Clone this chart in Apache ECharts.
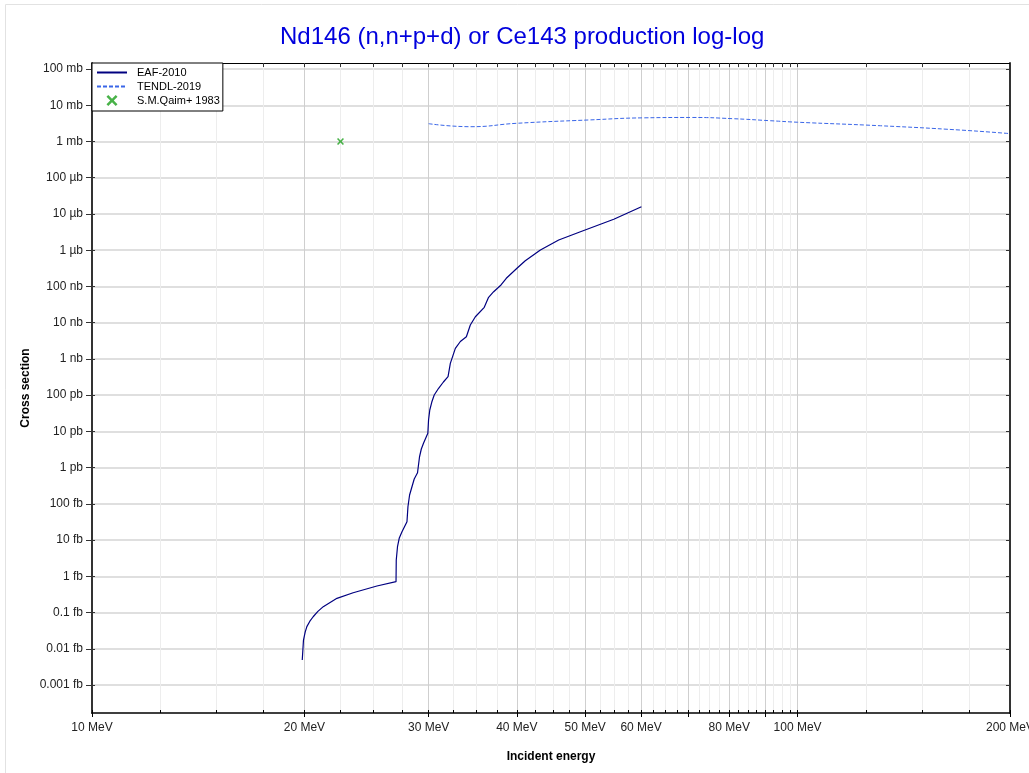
<!DOCTYPE html>
<html>
<head>
<meta charset="utf-8">
<script src="https://cdn.jsdelivr.net/npm/echarts@6/dist/echarts.min.js"></script>
<style>
html,body{margin:0;padding:0;background:#fff;}
#chart{width:1029px;height:773px;}
</style>
</head>
<body>
<div id="chart"></div>
<script>
// ---- data (energy in MeV, cross section in barns) ----
const eafEnergy = [19.86, 19.94, 20.05, 20.16, 20.35, 20.58, 20.9, 21.27, 22.24, 23.45, 25.34, 26.97, 26.99, 27.10, 27.26, 27.50, 27.95, 28.04, 28.19, 28.41, 28.62, 28.93, 29.12, 29.29, 29.50, 29.92, 29.99, 30.11, 30.31, 30.55, 30.99, 31.48, 31.96, 32.20, 32.73, 33.27, 33.93, 34.37, 34.94, 35.97, 36.48, 37.09, 37.99, 38.65, 40.02, 41.12, 43.20, 45.86, 49.23, 54.89, 60.07];
const eafXs = [4.9e-18, 1.75e-17, 2.9e-17, 4.1e-17, 5.7e-17, 7.7e-17, 1.08e-16, 1.46e-16, 2.48e-16, 3.54e-16, 5.42e-16, 7.13e-16, 2.83e-15, 6.58e-15, 1.15e-14, 1.71e-14, 3.22e-14, 8.36e-14, 1.76e-13, 2.98e-13, 4.86e-13, 7.24e-13, 2.0e-12, 3.27e-12, 4.7e-12, 8.87e-12, 2.07e-11, 3.9e-11, 6.47e-11, 1.01e-10, 1.55e-10, 2.31e-10, 3.23e-10, 7.57e-10, 1.96e-9, 3.03e-9, 4.1e-9, 8.63e-9, 1.46e-8, 2.66e-8, 5.01e-8, 7.16e-8, 1.10e-7, 1.68e-7, 3.17e-7, 5.13e-7, 1.01e-6, 1.91e-6, 3.24e-6, 7.13e-6, 1.58e-5];

const tendlEnergy = [30, 34.4, 40, 50.5, 60.7, 71, 81, 91.6, 100, 131, 170, 200];
const tendlXs = [3.1e-3, 2.56e-3, 3.18e-3, 3.92e-3, 4.5e-3, 4.6e-3, 4.26e-3, 3.74e-3, 3.4e-3, 2.72e-3, 2.07e-3, 1.65e-3];

const qaimEnergy = [22.5];
const qaimXs = [1.0e-3];

const xLabelValues = [10, 20, 30, 40, 50, 60, 80, 100, 200];
const xMajorTicks = [10, 20, 30, 40, 50, 60, 70, 80, 90, 100, 200];
const xMinorTicks = [12.5, 15, 17.5, 22.5, 25, 27.5, 32.5, 35, 37.5, 42.5, 45, 47.5, 52.5, 55, 57.5, 62.5, 65, 67.5, 72.5, 75, 77.5, 82.5, 85, 87.5, 92.5, 95, 97.5, 125, 150, 175];
const yTickValues = [1e-18, 1e-17, 1e-16, 1e-15, 1e-14, 1e-13, 1e-12, 1e-11, 1e-10, 1e-9, 1e-8, 1e-7, 1e-6, 1e-5, 1e-4, 1e-3, 1e-2, 1e-1];
const yTickLabels = ['0.001 fb', '0.01 fb', '0.1 fb', '1 fb', '10 fb', '100 fb', '1 pb', '10 pb', '100 pb', '1 nb', '10 nb', '100 nb', '1 µb', '10 µb', '100 µb', '1 mb', '10 mb', '100 mb'];

const X_MIN = 10, X_MAX = 200;
const Y_MIN = Math.pow(10, -18.77), Y_MAX = Math.pow(10, -0.834);

function zip(a, b) { return a.map((v, i) => [v, b[i]]); }
function yLabel(v) {
  const e = Math.round(Math.log10(v));
  const i = yTickValues.findIndex(t => Math.round(Math.log10(t)) === e);
  return i >= 0 ? yTickLabels[i] : '';
}

const FONT = 'Liberation Sans, Arial, sans-serif';
const chart = echarts.init(document.getElementById('chart'), null, {renderer: 'canvas'});

const commonX = {type: 'log', logBase: 10, min: X_MIN, max: X_MAX, gridIndex: 0};
const commonY = {type: 'log', logBase: 10, min: Y_MIN, max: Y_MAX, gridIndex: 0};
const hiddenSym = {color: 'rgba(0,0,0,0)', borderWidth: 0, opacity: 0};

chart.setOption({
  animation: false,
  backgroundColor: '#fff',
  textStyle: {fontFamily: FONT},
  graphic: [{
    type: 'rect', silent: true, z: -10,
    shape: {x: 5.5, y: 4.5, width: 1040, height: 780},
    style: {fill: 'none', stroke: '#e2e2e2', lineWidth: 1}
  }],
  title: {
    text: 'Nd146 (n,n+p+d) or Ce143 production log-log',
    left: 275, top: 20,
    textStyle: {color: '#0000dd', fontSize: 24, fontWeight: 'normal', fontFamily: FONT}
  },
  grid: {left: 92, right: 19, top: 63, bottom: 60, containLabel: false, outerBoundsMode: 'none'},
  legend: {
    left: 92, top: 63, orient: 'vertical',
    backgroundColor: '#fff', borderColor: '#000', borderWidth: 1,
    padding: [4, 3, 5, 4], itemGap: 3, itemWidth: 30, itemHeight: 11,
    textStyle: {fontSize: 11, color: '#000', fontFamily: FONT, padding: [0, 0, 0, 5]},
    data: [
      {name: 'EAF-2010', itemStyle: hiddenSym},
      {name: 'TENDL-2019', itemStyle: hiddenSym},
      {name: 'S.M.Qaim+ 1983'}
    ]
  },
  xAxis: [
    Object.assign({}, commonX, {
      position: 'bottom',
      name: 'Incident energy', nameLocation: 'middle', nameGap: 38,
      nameTextStyle: {fontWeight: 'bold', fontSize: 12, color: '#000', fontFamily: FONT},
      axisLine: {show: true, onZero: false, lineStyle: {color: '#000', width: 1.5}},
      axisTick: {show: true, inside: false, length: 4, customValues: xMajorTicks, lineStyle: {color: '#000'}},
      axisLabel: {show: true, margin: 9, fontSize: 12, color: '#222', customValues: xLabelValues,
        formatter: v => Math.round(v) + ' MeV', showMinLabel: true, showMaxLabel: true},
      splitLine: {show: true, lineStyle: {color: '#cfcfcf', width: 1}},
      minorTick: {show: false}, minorSplitLine: {show: false}
    }),
    Object.assign({}, commonX, {
      position: 'bottom',
      axisLine: {show: false, onZero: false},
      axisTick: {show: true, inside: true, length: 3, customValues: xMinorTicks, lineStyle: {color: '#000'}},
      axisLabel: {show: false},
      splitLine: {show: true, lineStyle: {color: '#ededed', width: 1}}
    }),
    Object.assign({}, commonX, {
      position: 'bottom',
      axisLine: {show: false, onZero: false},
      axisTick: {show: true, inside: true, length: 3, customValues: xMajorTicks, lineStyle: {color: '#000'}},
      axisLabel: {show: false},
      splitLine: {show: false}
    }),
    Object.assign({}, commonX, {
      position: 'top',
      axisLine: {show: true, onZero: false, lineStyle: {color: '#000', width: 1}},
      axisTick: {show: true, inside: true, length: 4, customValues: xMajorTicks.concat(xMinorTicks), lineStyle: {color: '#333'}},
      axisLabel: {show: false},
      splitLine: {show: false}
    })
  ],
  yAxis: [
    Object.assign({}, commonY, {
      position: 'left',
      name: 'Cross section', nameLocation: 'middle', nameGap: 60, nameRotate: 90, nameMoveOverlap: false,
      nameTextStyle: {fontWeight: 'bold', fontSize: 12, color: '#000', fontFamily: FONT},
      axisLine: {show: true, onZero: false, lineStyle: {color: '#333', width: 2}},
      axisTick: {show: true, inside: false, length: 6, customValues: yTickValues, lineStyle: {color: '#333'}},
      axisLabel: {show: true, margin: 9, fontSize: 12, color: '#222', customValues: yTickValues, formatter: yLabel},
      splitLine: {show: true, lineStyle: {color: '#d4d4d4', width: 1.5}},
      minorTick: {show: false}, minorSplitLine: {show: false}
    }),
    Object.assign({}, commonY, {
      position: 'left',
      axisLine: {show: false, onZero: false},
      axisTick: {show: true, inside: true, length: 3, customValues: yTickValues, lineStyle: {color: '#333'}},
      axisLabel: {show: false},
      splitLine: {show: false}
    }),
    Object.assign({}, commonY, {
      position: 'right',
      axisLine: {show: true, onZero: false, lineStyle: {color: '#333', width: 2}},
      axisTick: {show: true, inside: true, length: 4, customValues: yTickValues, lineStyle: {color: '#333'}},
      axisLabel: {show: false},
      splitLine: {show: false}
    })
  ],
  series: [
    {
      name: 'EAF-2010', type: 'line', xAxisIndex: 0, yAxisIndex: 0,
      data: zip(eafEnergy, eafXs), symbol: 'none', smooth: false,
      lineStyle: {color: '#000080', width: 1.2}, itemStyle: {color: '#000080'}, z: 5
    },
    {
      name: 'TENDL-2019', type: 'line', xAxisIndex: 0, yAxisIndex: 0,
      data: zip(tendlEnergy, tendlXs), symbol: 'none', smooth: true,
      lineStyle: {color: '#3a66e8', width: 1, type: [4, 2]}, itemStyle: {color: '#3a66e8'}, z: 5
    },
    {
      name: 'S.M.Qaim+ 1983', type: 'scatter', xAxisIndex: 0, yAxisIndex: 0,
      data: zip(qaimEnergy, qaimXs),
      symbol: 'path://M0,1.6L1.6,0L5,3.4L8.4,0L10,1.6L6.6,5L10,8.4L8.4,10L5,6.6L1.6,10L0,8.4L3.4,5Z',
      symbolSize: 7, itemStyle: {color: '#1a9f1a'}, z: 6
    }
  ]
});
</script>
</body>
</html>
